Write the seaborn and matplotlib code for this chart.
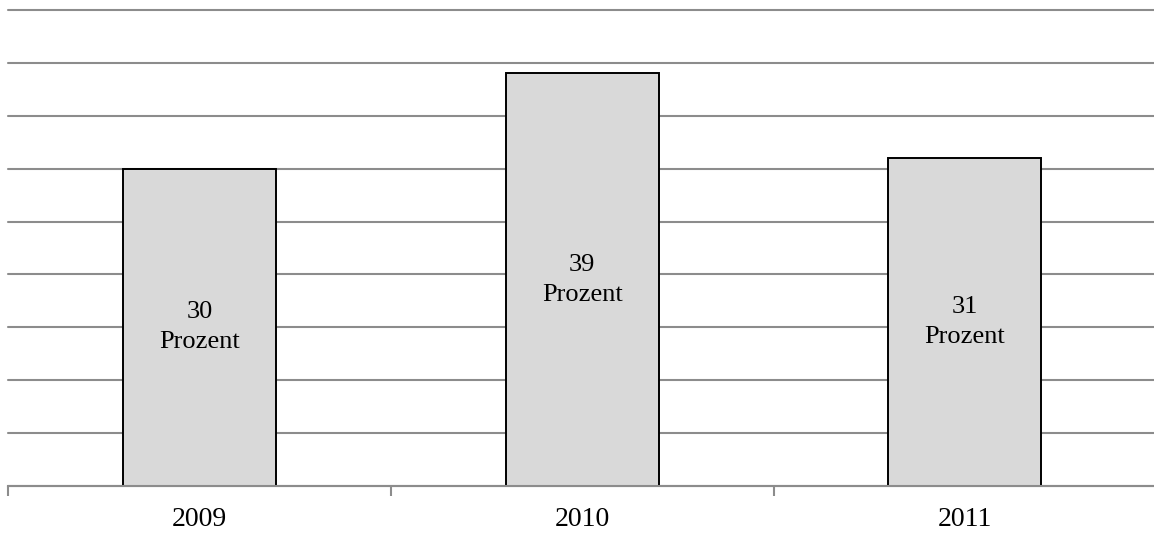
import matplotlib
matplotlib.use("Agg")
import matplotlib.pyplot as plt
import seaborn as sns
import pandas as pd

years = ["2009", "2010", "2011"]
values = [30, 39, 31]
unit = "Prozent"

sns.set_theme(style="white")
plt.rcParams["font.family"] = ["Liberation Serif", "DejaVu Serif"]

df = pd.DataFrame({"year": years, "value": values})

fig = plt.figure(figsize=(11.54, 5.34), dpi=100)
ax = fig.add_axes([8 / 1154, 48 / 534, 1 - 8 / 1154 + 0.002, (486 - 10) / 534])

grid_color = "#8c8c8c"
sns.barplot(data=df, x="year", y="value", ax=ax, color="#d9d9d9",
            saturation=1, width=0.40, edgecolor="black", linewidth=1.4, zorder=3)

ax.set_ylim(0, 45)
ax.set_xlim(-0.5, 2.5)
ax.set_yticks(range(0, 50, 5))
ax.yaxis.grid(True, color=grid_color, linewidth=1.5, zorder=0)
for gl in ax.get_ygridlines():
    gl.set_clip_on(False)
ax.set_axisbelow(True)
ax.tick_params(axis="y", left=False, labelleft=False)

for s in ["top", "right", "left"]:
    ax.spines[s].set_visible(False)
ax.spines["bottom"].set_color(grid_color)
ax.spines["bottom"].set_linewidth(1.5)
ax.spines["bottom"].set_zorder(4)

# category boundary ticks below the axis, labels centred on each bar
ax.set_xticks([-0.5, 0.5, 1.5, 2.5])
ax.set_xticklabels([])
ax.tick_params(axis="x", bottom=True, length=7, width=1.5, color=grid_color, direction="out")
ax.set_xticks(range(len(years)), minor=True)
ax.set_xticklabels(years, minor=True, fontsize=20)
ax.tick_params(axis="x", which="minor", length=0, pad=15, labelcolor="black")

ax.set_xlabel("")
ax.set_ylabel("")

for i, v in enumerate(values):
    ax.text(i, v / 2, f"{v}\n{unit}", ha="center", va="center", fontsize=19,
            color="black", linespacing=1.47, zorder=5)

fig.savefig("out.png", dpi=100)
